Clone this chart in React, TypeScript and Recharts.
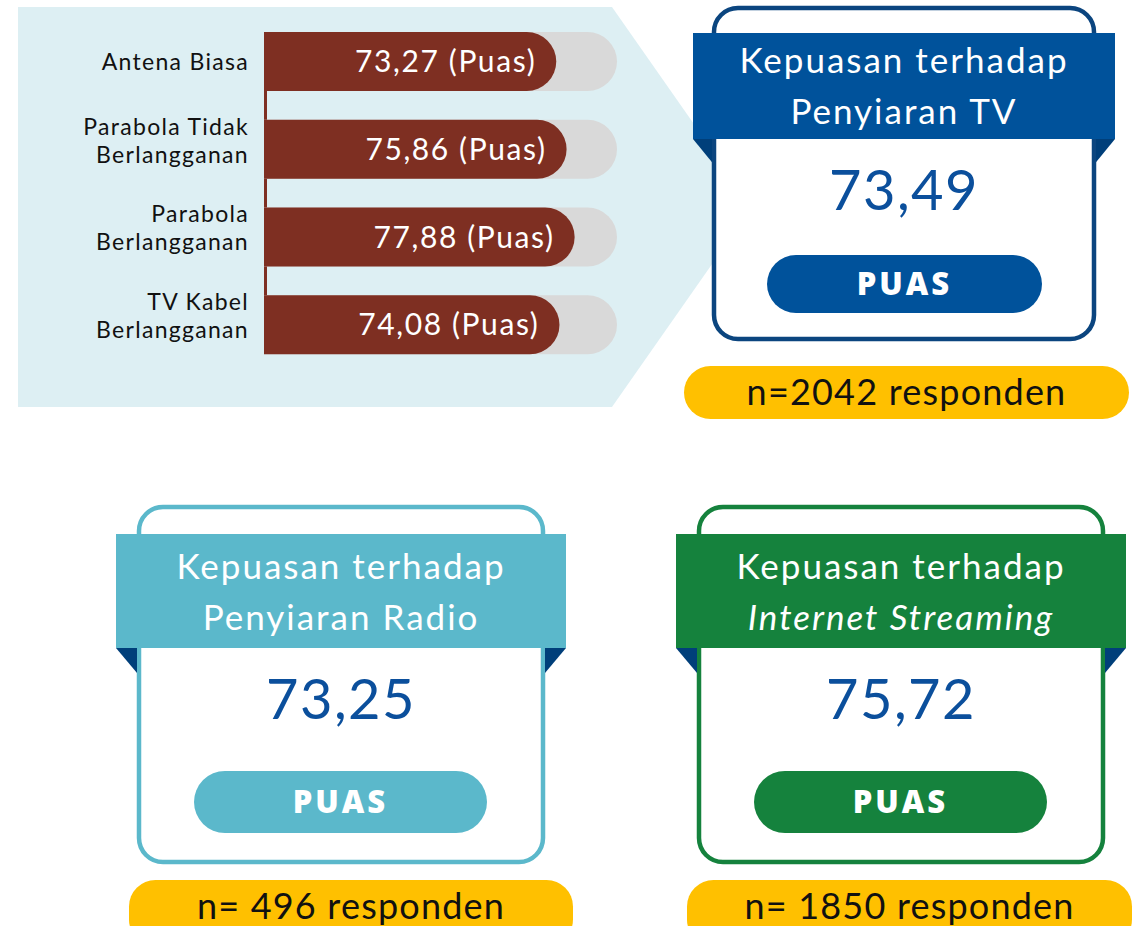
import { BarChart, Bar, XAxis, YAxis, LabelList } from 'recharts';

// Bar chart: satisfaction per TV reception type
const categories = [
  'Antena Biasa',
  'Parabola Tidak Berlangganan',
  'Parabola Berlangganan',
  'TV Kabel Berlangganan',
];
const categoryLines = [
  ['Antena Biasa'],
  ['Parabola Tidak', 'Berlangganan'],
  ['Parabola', 'Berlangganan'],
  ['TV Kabel', 'Berlangganan'],
];
const scores = [73.27, 75.86, 77.88, 74.08];
const scoreVerdict = 'Puas';
const axisMax = 88.5;

// Summary cards
const cardTitles = [
  ['Kepuasan terhadap', 'Penyiaran TV'],
  ['Kepuasan terhadap', 'Penyiaran Radio'],
  ['Kepuasan terhadap', 'Internet Streaming'],
];
const cardScores = [73.49, 73.25, 75.72];
const cardVerdicts = ['PUAS', 'PUAS', 'PUAS'];
const cardRespondents = ['n=2042 responden', 'n= 496 responden', 'n= 1850 responden'];

const FONT = 'Lato, "Noto Sans", sans-serif';
const RED = '#7E2F22';
const GREY = '#D9D9D9';
const PANEL = '#DDEFF3';
const YELLOW = '#FFC000';
const VALUE_BLUE = '#0B4F9C';
const FOLD = '#003F7A';

const chartData = categories.map((name, i) => ({ name, value: scores[i] }));

const CHART_H = 420;
const MARGIN = { top: 18, right: 23, bottom: 51, left: 0 };
const BAR_SIZE = 59;
const bandGap = (CHART_H - MARGIN.top - MARGIN.bottom) / categories.length - BAR_SIZE;

const fmt = (v: number) => v.toFixed(2).replace('.', ',');

function RoundBar(props: any) {
  const { x, y, width, height, index } = props;
  const r = height / 2;
  const w = Math.max(width, r);
  const d = `M${x},${y} H${x + w - r} A${r},${r} 0 0 1 ${x + w - r},${y + height} H${x} Z`;
  return (
    <g>
      <path d={d} fill={RED} />
      {index < categories.length - 1 && (
        <rect x={x} y={y + height} width={3} height={bandGap} fill={RED} />
      )}
    </g>
  );
}

function TrackBar(props: any) {
  const { x, y, width, height } = props;
  const r = height / 2;
  const d = `M${x},${y} H${x + width - r} A${r},${r} 0 0 1 ${x + width - r},${y + height} H${x} Z`;
  return <path d={d} fill={GREY} />;
}

function CategoryTick(props: any) {
  const { x, y, index } = props;
  const lines = categoryLines[index] || [];
  const first = lines.length > 1 ? -15 : 8;
  const tx = x - 9;
  return (
    <text x={tx} y={y} textAnchor="end" fill="#111" fontSize={23} fontFamily={FONT} letterSpacing={1.3}>
      {lines.map((l, i) => (
        <tspan key={i} x={tx} dy={i === 0 ? first : 28}>
          {l}
        </tspan>
      ))}
    </text>
  );
}

interface CardLayout {
  box: [number, number, number, number];
  band: [number, number, number, number];
  pill: [number, number, number, number];
  tag: [number, number, number, number];
  color: string;
  border: string;
  titleBase: number;
  valueBase: number;
  italicSecond?: boolean;
}

const cardLayouts: CardLayout[] = [
  {
    box: [714, 8, 380, 331],
    band: [693, 33, 422, 106],
    pill: [767, 255, 275, 58],
    tag: [684, 366, 445, 53],
    color: '#00529B',
    border: '#0B457F',
    titleBase: 73,
    valueBase: 210,
  },
  {
    box: [139, 507, 404, 355],
    band: [116, 534, 450, 114],
    pill: [194, 771, 293, 62],
    tag: [129, 880, 444, 66],
    color: '#5BB8CB',
    border: '#5BB8CB',
    titleBase: 579,
    valueBase: 719,
  },
  {
    box: [699, 507, 404, 355],
    band: [676, 534, 450, 114],
    pill: [754, 771, 293, 62],
    tag: [687, 880, 445, 66],
    color: '#15823D',
    border: '#15823D',
    titleBase: 579,
    valueBase: 719,
    italicSecond: true,
  },
];

function SummaryCard({ i }: { i: number }) {
  const L = cardLayouts[i];
  const [bx, by, bw, bh] = L.box;
  const [nx, ny, nw, nh] = L.band;
  const [px, py, pw, ph] = L.pill;
  const [tx, ty, tw, th] = L.tag;
  const cx = nx + nw / 2;
  const nb = ny + nh;
  const fold = nh * 0.22;
  return (
    <g fontFamily={FONT}>
      <rect x={bx} y={by} width={bw} height={bh} rx={24} fill="#fff" stroke={L.border} strokeWidth={4.5} />
      <polygon points={`${nx},${nb} ${bx - 2},${nb} ${bx - 2},${nb + fold}`} fill={FOLD} />
      <polygon points={`${nx + nw},${nb} ${bx + bw + 2},${nb} ${bx + bw + 2},${nb + fold}`} fill={FOLD} />
      <rect x={nx} y={ny} width={nw} height={nh} fill={L.color} />
      <text x={cx} y={L.titleBase} textAnchor="middle" fill="#fff" fontSize={35} letterSpacing={2}>
        {cardTitles[i][0]}
      </text>
      <text
        x={cx}
        y={L.titleBase + 51}
        textAnchor="middle"
        fill="#fff"
        fontSize={35}
        letterSpacing={2}
        fontStyle={L.italicSecond ? 'italic' : 'normal'}
      >
        {cardTitles[i][1]}
      </text>
      <text x={cx} y={L.valueBase} textAnchor="middle" fill={VALUE_BLUE} fontSize={56} letterSpacing={1.5}>
        {fmt(cardScores[i])}
      </text>
      <rect x={px} y={py} width={pw} height={ph} rx={ph / 2} fill={L.color} />
      <text
        x={px + pw / 2}
        y={py + ph / 2 + 11}
        textAnchor="middle"
        fill="#fff"
        fontSize={31}
        fontWeight={800}
        fontFamily='"Open Sans", sans-serif'
        letterSpacing={3}
      >
        {cardVerdicts[i]}
      </text>
      <rect x={tx} y={ty} width={tw} height={th} rx={26.5} fill={YELLOW} />
      <text x={tx + tw / 2} y={ty + 39} textAnchor="middle" fill="#111" fontSize={36} letterSpacing={1.2}>
        {cardRespondents[i]}
      </text>
    </g>
  );
}

export default function App() {
  return (
    <div
      style={{
        position: 'absolute',
        left: 0,
        top: 0,
        width: 1142,
        height: 926,
        overflow: 'hidden',
        background: '#fff',
        fontFamily: FONT,
      }}
    >
      <svg width={1142} height={926} style={{ position: 'absolute', left: 0, top: 0 }}>
        <polygon points="18,7 612,7 752,207 612,407 18,407" fill={PANEL} />
      </svg>
      <div style={{ position: 'absolute', left: 0, top: 0 }}>
        <BarChart
          width={640}
          height={CHART_H}
          data={chartData}
          layout="vertical"
          margin={MARGIN}
          barSize={BAR_SIZE}
        >
          <XAxis type="number" domain={[0, axisMax]} hide />
          <YAxis
            type="category"
            dataKey="name"
            width={264}
            axisLine={false}
            tickLine={false}
            tickMargin={0}
            tick={<CategoryTick />}
            interval={0}
          />
          <Bar
            dataKey="value"
            isAnimationActive={false}
            background={<TrackBar />}
            shape={<RoundBar />}
          >
            <LabelList
              dataKey="value"
              position="insideRight"
              offset={20}
              fill="#fff"
              fontSize={30}
              fontFamily={FONT}
              letterSpacing={1.6}
              formatter={(v: any) => `${fmt(Number(v))} (${scoreVerdict})`}
            />
          </Bar>
        </BarChart>
      </div>
      <svg width={1142} height={926} style={{ position: 'absolute', left: 0, top: 0 }}>
        {cardLayouts.map((_, i) => (
          <SummaryCard key={i} i={i} />
        ))}
      </svg>
    </div>
  );
}
